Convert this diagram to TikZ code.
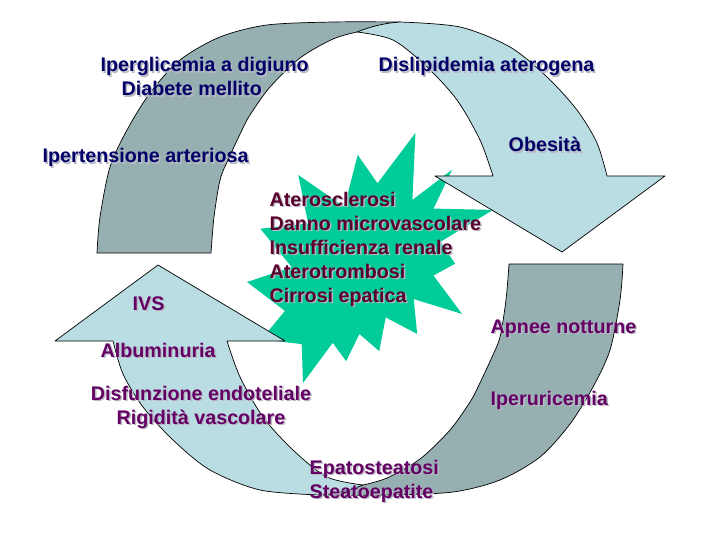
\documentclass[tikz,border=0pt]{standalone}
\usepackage{fontspec}
\setmainfont{Liberation Sans}
\definecolor{grayband}{RGB}{150,176,178}
\definecolor{lightband}{RGB}{185,221,226}
\definecolor{burst}{RGB}{0,204,153}
\definecolor{navy}{RGB}{0,0,102}
\definecolor{plum}{RGB}{100,0,100}
\definecolor{wine}{RGB}{90,0,45}
\definecolor{shadowc}{RGB}{185,185,198}
\newcommand{\shd}[1]{\leavevmode\rlap{\kern1.5pt\raisebox{-1.5pt}{\textcolor{shadowc}{#1}}}#1}
\tikzset{
  band/.style={draw=black,line width=0.7pt,line join=round},
  lbl/.style={inner sep=0pt,font=\fontsize{19.7}{24}\selectfont\bfseries,align=left,anchor=base west},
  backband/.pic={
    \filldraw[band,fill=grayband]
      plot[smooth] coordinates {(97,253) (100,217) (110,167) (127,130) (150,93) (180,60) (220,37) (267,25) (333,22) (400,22)}
      -- plot[smooth] coordinates {(357,32) (333,39) (300,58) (270,87) (250,115) (242,130) (228,160) (220,180) (214,217) (211,253)}
      -- cycle;
  },
  frontarrow/.pic={
    \filldraw[band,fill=lightband]
      plot[smooth] coordinates {(400,22) (460,27) (510,47) (547,77) (577,110) (597,143) (607,176)}
      -- (665,176) -- (562,252) -- (435,176)
      -- plot[smooth] coordinates {(493,176) (480,140) (457,100) (427,67) (393,40) (357,32)}
      .. controls (372,26) and (386,23) .. (400,22) -- cycle;
  }
}
\begin{document}
\begin{tikzpicture}[x=1pt,y=-1pt]
\useasboundingbox (0,0) rectangle (720,540);
\fill[white] (0,0) rectangle (720,540);
% starburst
\fill[burst] (377.5,183.3) -- (415.4,133) -- (412.4,199.9) -- (452.1,169.7) -- (433.5,208.6)
  -- (493,209.9) -- (440.4,241.8) -- (455.1,263.7) -- (433.5,275.5) -- (462,313.9)
  -- (413.7,299.1) -- (417.2,334) -- (385.7,317.4) -- (379.2,351.1) -- (359.4,334)
  -- (346.1,361.1) -- (332.7,342.8) -- (303,383) -- (301.7,344.1) -- (261.6,339.3)
  -- (284.9,310.9) -- (247,282) -- (291.8,267.2) -- (260.3,228.7) -- (308.2,223.5)
  -- (298.3,175) -- (344.4,206.9) -- (357.7,154.8) -- cycle;
% curved arrows
\pic at (0,0) {backband};
\pic[rotate=180] at (720,517) {backband};
\pic at (0,0) {frontarrow};
\pic[rotate=180] at (720,517) {frontarrow};
% labels (multi-line nodes: base = last line)
\node[lbl,text=navy] (iper) at (100.5,96) {\shd{Iperglicemia a digiuno}\\\hspace*{21pt}\shd{Diabete mellito}};
\node[lbl,text=navy] (disl) at (378.5,72) {\shd{Dislipidemia aterogena}};
\node[lbl,text=navy] (ipert) at (42.5,163) {\shd{Ipertensione arteriosa}};
\node[lbl,text=navy] (obes) at (508.5,152) {\shd{Obesità}};
\node[lbl,text=wine] (ater) at (269.5,302) {\shd{Aterosclerosi}\\\shd{Danno microvascolare}\\\shd{Insufficienza renale}\\\shd{Aterotrombosi}\\\shd{Cirrosi epatica}};
\node[lbl,text=plum] (ivs) at (132.5,310) {\shd{IVS}};
\node[lbl,text=plum] (albu) at (100.5,357) {\shd{Albuminuria}};
\node[lbl,text=plum,align=center,anchor=base] (disf) at (201,424) {\shd{Disfunzione endoteliale}\\\shd{Rigidità vascolare}};
\node[lbl,text=plum] (epato) at (309.5,498) {\shd{Epatosteatosi}\\\shd{Steatoepatite}};
\node[lbl,text=plum] (apnee) at (490.5,333) {\shd{Apnee notturne}};
\node[lbl,text=plum] (iperu) at (490.5,405) {\shd{Iperuricemia}};
\end{tikzpicture}
\end{document}
